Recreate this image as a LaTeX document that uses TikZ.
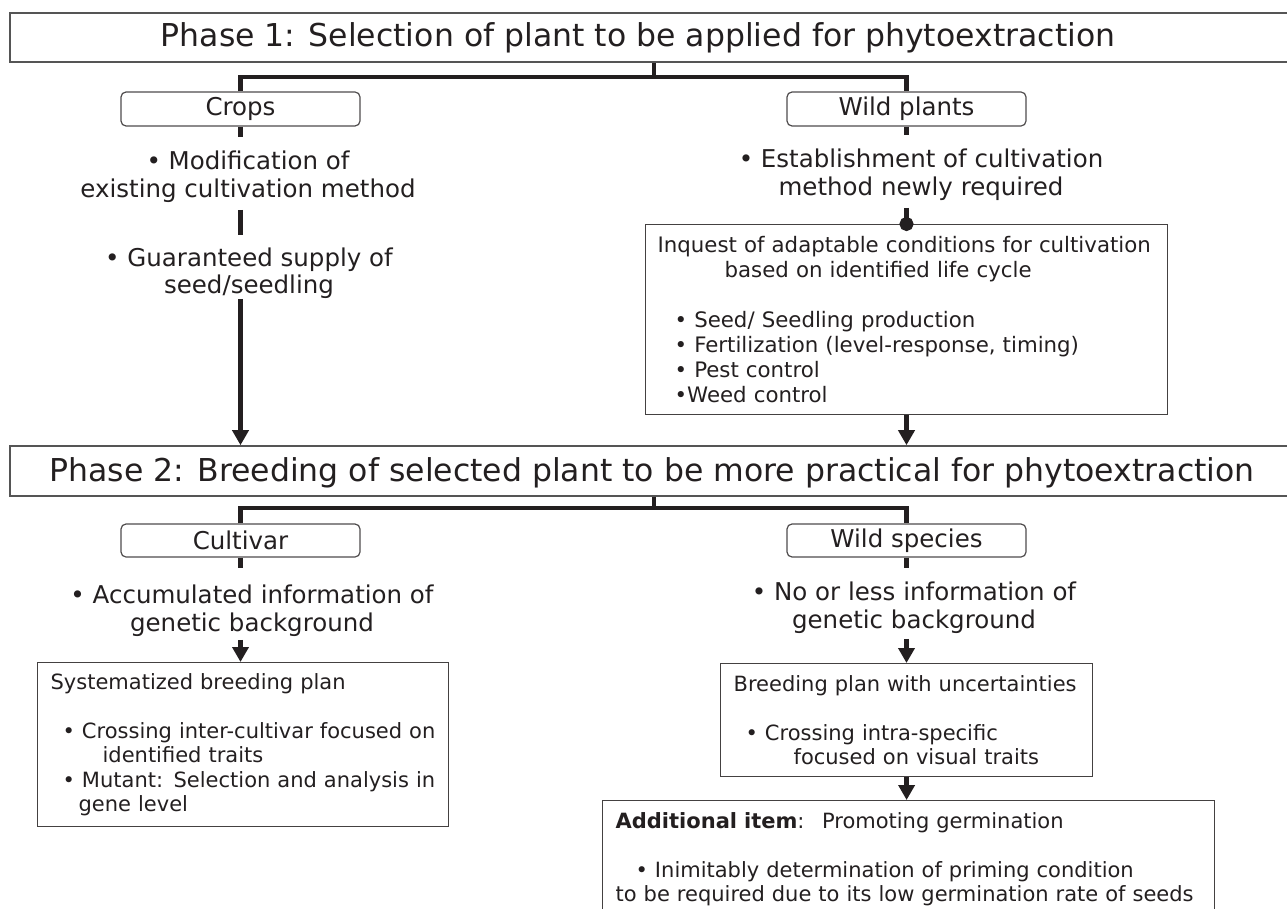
\documentclass[tikz,border=0pt]{standalone}
\usepackage{fontspec}
\setmainfont{DejaVu Sans}
\usetikzlibrary{arrows.meta}
\definecolor{ink}{HTML}{231F20}
\definecolor{frame}{HTML}{555555}

\begin{document}
\begin{tikzpicture}[
		x=1pt,y=-1pt,
		>={Triangle[width=16pt,length=15pt]},
		line join=miter,
		phase/.style={draw=frame,line width=1.6pt,minimum width=1288pt,minimum height=49pt,inner sep=0pt},
		phasetxt/.style={inner sep=0pt,text=ink,font=\fontsize{31.5}{36}\selectfont},
		kind/.style={draw=ink!80,line width=1.2pt,rounded corners=5pt,minimum width=239pt,minimum height=34pt,inner sep=0pt,text=ink,font=\fontsize{24.5}{28}\selectfont},
		note/.style={align=center,inner sep=0pt,text=ink,font=\fontsize{24.5}{27.5}\selectfont},
		plan/.style={draw=ink!85,line width=1.2pt,anchor=north west,align=left,inner xsep=13pt,inner ysep=0pt,text=ink,font=\fontsize{21}{24.5}\selectfont,
			execute at begin node={\hyphenpenalty=10000\relax}},
		tree/.style={draw=ink,line width=4.5pt},
		flow/.style={tree,->}
		]
		\useasboundingbox (0,0) rectangle (1287,909);

		% phase 1
		\node[phase] (ph1) at (654,37.5) {};
		\node[phasetxt] (ph1txt) at (638,38) {Phase 1: Selection of plant to be applied for phytoextraction};
		\node[kind] (crops) at (240.5,109) {Crops};
		\node[kind] (wildp) at (906.5,109) {Wild plants};
		\node[note] (mod) at (248,176.5) {• Modification of\\existing cultivation method};
		\node[note] (guar) at (249,273) {• Guaranteed supply of\\seed/seedling};
		\node[note] (est) at (921,174.5) {• Establishment of cultivation\\method newly required};
		\node[plan,minimum width=522pt,minimum height=190pt,text width=502pt,inner xsep=10pt,
			font=\fontsize{21.3}{25}\selectfont] (inq) at (645,224) {%
			\hspace*{2pt}Inquest of adaptable conditions for cultivation\\
			\hspace*{69pt}based on identified life cycle\\[25pt]
			\hspace*{19pt}• Seed/ Seedling production\\
			\hspace*{19pt}• Fertilization (level-response, timing)\\
			\hspace*{19pt}• Pest control\\
			\hspace*{19pt}•Weed control};

		% phase 2
		\node[phase,minimum height=50pt] (ph2) at (654,471) {};
		\node[phasetxt] (ph2txt) at (652,473) {Phase 2: Breeding of selected plant to be more practical for phytoextraction};
		\node[kind,minimum height=33pt] (cult) at (240.5,540.5) {Cultivar};
		\node[kind,minimum height=33pt] (wilds) at (906.5,540.5) {Wild species};
		\node[note] (acc) at (252,610.5) {• Accumulated information of\\genetic background};
		\node[note] (noinfo) at (914,607.5) {• No or less information of\\genetic background};
		\node[plan,minimum width=411pt,minimum height=164pt,text width=385pt] (sys) at (37,662) {%
			Systematized breeding plan\\[24.5pt]
			\hspace*{12pt}• Crossing inter-cultivar focused on\\
			\hspace*{52pt}identified traits\\
			\hspace*{12pt}• Mutant: Selection and analysis in\\
			\hspace*{28pt}gene level};
		\node[plan,minimum width=372pt,minimum height=113pt,text width=346pt] (brd) at (720,663) {%
			Breeding plan with uncertainties\\[24.5pt]
			\hspace*{12pt}• Crossing intra-specific\\
			\hspace*{60pt}focused on visual traits};
		\node[plan,minimum width=612pt,minimum height=118pt,text width=586pt] (add) at (602,800) {%
			\textbf{Additional item}:~ Promoting germination\\[24pt]
			\hspace*{20pt}• Inimitably determination of priming condition\\
			to be required due to its low germination rate of seeds};

		% connectors
		\coordinate (j1) at (654,77);
		\coordinate (j2) at (654,508);
		\draw[tree] (ph1.south) -- (j1);
		\draw[tree] (crops.north) |- (j1) -| (wildp.north);
		\draw[tree,shorten >=13.5pt] (crops.south) -- (crops.south |- mod.north);
		\draw[tree,shorten <=7.5pt,shorten >=12pt] (crops.south |- mod.south) -- (crops.south |- guar.north);
		\draw[flow] (crops.south |- guar.south) -- (crops.south |- ph2.north);
		\draw[tree,shorten >=13.5pt] (wildp.south) -- (wildp.south |- est.north);
		\draw[tree,-{Circle[length=14pt]},shorten <=7.5pt,shorten >=-7pt] (wildp.south |- est.south) -- (wildp.south |- inq.north);
		\draw[flow] (wildp.south |- inq.south) -- (wildp.south |- ph2.north);
		\draw[tree] (ph2.south) -- (j2);
		\draw[tree] (cult.north) |- (j2) -| (wilds.north);
		\draw[tree,shorten >=16.5pt] (cult.south) -- (cult.south |- acc.north);
		\draw[flow,shorten <=3.5pt] (cult.south |- acc.south) -- (cult.south |- sys.north);
		\draw[tree,shorten >=13.5pt] (wilds.south) -- (wilds.south |- noinfo.north);
		\draw[flow,shorten <=5.5pt] (wilds.south |- noinfo.south) -- (wilds.south |- brd.north);
		\draw[flow] (brd.south) -- (brd.south |- add.north);
		\end{tikzpicture}
\end{document}
